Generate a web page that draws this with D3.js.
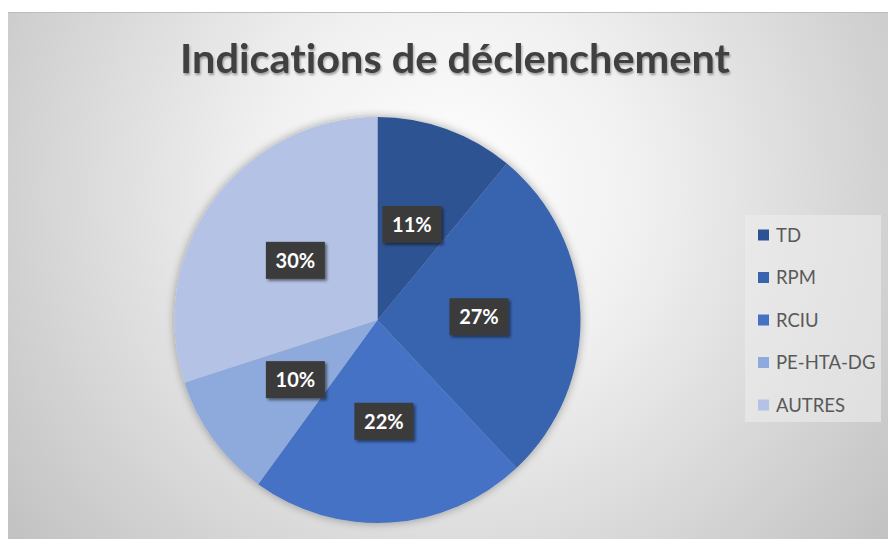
<!DOCTYPE html>
<html><head><meta charset="utf-8">
<script src="https://cdn.jsdelivr.net/npm/d3@7"></script>
<style>
html,body{margin:0;padding:0;background:#fff;}
svg{display:block;}
text{font-variant-ligatures:none;font-feature-settings:"liga" 0;}
</style></head>
<body>
<svg id="chart" width="888" height="539"></svg>
<script>
const title = "Indications de déclenchement";
const categories = ["TD", "RPM", "RCIU", "PE-HTA-DG", "AUTRES"];
const values = [11, 27, 22, 10, 30];
const palette = ["#2d5293", "#3863ae", "#4472c4", "#8ea9db", "#b4c3e5"];

const W = 888, H = 539;
const svg = d3.select("#chart");
const defs = svg.append("defs");

const bg = defs.append("radialGradient").attr("id", "bg")
  .attr("gradientUnits", "userSpaceOnUse")
  .attr("cx", 450).attr("cy", 190).attr("r", 560);
bg.append("stop").attr("offset", "0%").attr("stop-color", "#ffffff");
bg.append("stop").attr("offset", "35%").attr("stop-color", "#f0f0f0");
bg.append("stop").attr("offset", "100%").attr("stop-color", "#c2c2c2");

const sh = defs.append("filter").attr("id", "pieShadow")
  .attr("x", "-20%").attr("y", "-20%").attr("width", "140%").attr("height", "140%");
sh.append("feGaussianBlur").attr("in", "SourceAlpha").attr("stdDeviation", 5).attr("result", "b");
sh.append("feOffset").attr("in", "b").attr("dx", 0).attr("dy", 0).attr("result", "o");
sh.append("feComponentTransfer").attr("in", "o").attr("result", "o2")
  .append("feFuncA").attr("type", "linear").attr("slope", 0.35);
const m1 = sh.append("feMerge");
m1.append("feMergeNode").attr("in", "o2");
m1.append("feMergeNode").attr("in", "SourceGraphic");

const lsh = defs.append("filter").attr("id", "lblShadow")
  .attr("x", "-30%").attr("y", "-30%").attr("width", "170%").attr("height", "170%");
lsh.append("feGaussianBlur").attr("in", "SourceAlpha").attr("stdDeviation", 1.5).attr("result", "b");
lsh.append("feOffset").attr("in", "b").attr("dx", 2).attr("dy", 2).attr("result", "o");
lsh.append("feComponentTransfer").attr("in", "o").attr("result", "o2")
  .append("feFuncA").attr("type", "linear").attr("slope", 0.5);
const m2 = lsh.append("feMerge");
m2.append("feMergeNode").attr("in", "o2");
m2.append("feMergeNode").attr("in", "SourceGraphic");

const tsh = defs.append("filter").attr("id", "txtShadow")
  .attr("x", "-10%").attr("y", "-30%").attr("width", "120%").attr("height", "160%");
tsh.append("feGaussianBlur").attr("in", "SourceAlpha").attr("stdDeviation", 1.2).attr("result", "b");
tsh.append("feOffset").attr("in", "b").attr("dx", 1).attr("dy", 1.5).attr("result", "o");
tsh.append("feComponentTransfer").attr("in", "o").attr("result", "o2")
  .append("feFuncA").attr("type", "linear").attr("slope", 0.35);
const m3 = tsh.append("feMerge");
m3.append("feMergeNode").attr("in", "o2");
m3.append("feMergeNode").attr("in", "SourceGraphic");

// chart area
svg.append("rect").attr("x", 8).attr("y", 12).attr("width", W - 8).attr("height", H - 12)
  .attr("fill", "url(#bg)");
svg.append("line").attr("x1", 8).attr("x2", W).attr("y1", 12.5).attr("y2", 12.5)
  .attr("stroke", "#bdbdbd").attr("stroke-width", 1);

// title
svg.append("text").attr("x", 455).attr("y", 73)
  .attr("text-anchor", "middle")
  .attr("font-family", "Lato, 'Open Sans', sans-serif").attr("font-weight", "bold")
  .attr("font-size", 40).attr("fill", "#404040")
  .attr("textLength", 550).attr("lengthAdjust", "spacingAndGlyphs")
  .attr("filter", "url(#txtShadow)")
  .text(title);

// pie
const cx = 377.5, cy = 320, R = 203;
const color = d3.scaleOrdinal().domain(categories).range(palette);
const pie = d3.pie().sort(null).value(d => d.v);
const data = categories.map((c, i) => ({ c, v: values[i] }));
const arcs = pie(data);
const arc = d3.arc().innerRadius(0).outerRadius(R);

const g = svg.append("g").attr("transform", `translate(${cx},${cy})`);
g.append("g").attr("filter", "url(#pieShadow)")
  .selectAll("path").data(arcs).join("path")
  .attr("d", arc)
  .attr("fill", d => color(d.data.c));

const total = d3.sum(values);
const fmt = d => Math.round(d.data.v / total * 100) + "%";
const lbl = g.selectAll("g.lbl").data(arcs).join("g")
  .attr("class", "lbl")
  .attr("transform", d => { const [x, y] = arc.centroid(d); return `translate(${x},${y})`; });
lbl.append("rect").attr("x", -29.5).attr("y", -18.5).attr("width", 59).attr("height", 37)
  .attr("fill", "#3b3b3b").attr("filter", "url(#lblShadow)");
lbl.append("text").attr("text-anchor", "middle").attr("dy", "0.36em")
  .attr("font-family", "Lato, 'Open Sans', sans-serif").attr("font-weight", "bold")
  .attr("font-size", 20).attr("fill", "#ffffff")
  .text(fmt);

// legend
const lg = svg.append("g");
lg.append("rect").attr("x", 745).attr("y", 215).attr("width", 136).attr("height", 207)
  .attr("fill", "#ececec").attr("opacity", 0.6);
const ly = d3.scalePoint().domain(categories).range([235, 405]);
const items = lg.selectAll("g.it").data(categories).join("g").attr("class", "it")
  .attr("transform", d => `translate(758,${ly(d)})`);
items.append("rect").attr("x", 0).attr("y", -5.5).attr("width", 11).attr("height", 11)
  .attr("fill", d => color(d));
items.append("text").attr("x", 18).attr("dy", "0.36em")
  .attr("font-family", "Lato, 'Open Sans', sans-serif")
  .attr("font-size", 18.5).attr("fill", "#595959")
  .text(d => d);
</script>
</body></html>
